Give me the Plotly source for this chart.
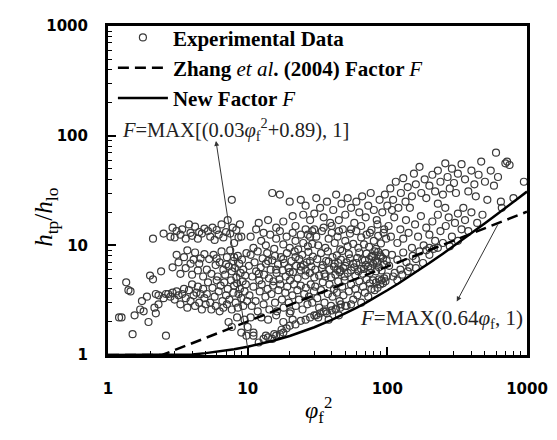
import plotly.graph_objects as go
import math

# ---------------- data ----------------
# experimental points (phi_f^2, h_tp/h_lo), grouped by region
pts_a = [(1.2,2.2),(1.25,2.2),(1.35,4.6),(1.4,3.9),(1.45,3.8),(1.5,1.55),(1.55,2.3),(1.7,2.6),
         (1.75,3.1),(1.8,2.5),(1.9,3.4),(1.95,2.0),(2.0,5.3),(2.1,4.9),(2.1,11.5),(2.15,2.7),
         (2.2,3.6),(2.2,2.4),(2.3,3.5),(2.4,5.8),(2.5,3.3),(2.6,1.5),(2.5,12.8),(2.6,3.6),(2.3,2.9)]
pts_b = [(2.8,12),(2.9,14.5),(3.0,11.8),(3.1,13.5),(3.3,12.5),(3.4,14),(3.6,11.5),(3.8,15.5),
         (3.9,13),(4.0,12.2),(4.2,14.8),(4.4,11.5),(4.5,13.2),(4.7,12.8),(4.9,14.2),
         (2.9,6.3),(3.1,8.2),(3.2,7.0),(3.3,5.5),(3.5,7.8),(3.6,6.2),(3.7,9.0),(3.9,6.8),(4.0,5.4),
         (4.1,7.4),(4.2,8.6),(4.4,5.9),(4.5,6.8),(4.6,7.6),(4.8,5.2),(4.9,8.3),
         (2.7,3.6),(2.8,3.4),(2.9,3.7),(3.0,3.2),(3.1,3.8),(3.2,3.5),(3.3,2.9),(3.4,3.6),(3.5,4.0),
         (3.6,3.3),(3.7,2.7),(3.8,3.9),(3.9,3.1),(4.0,4.4),(4.1,3.5),(4.2,2.8),(4.3,3.7),(4.4,4.2),
         (4.5,3.0),(4.6,3.6),(4.7,2.6),(4.8,4.0),(4.9,3.3),(5.0,2.9)]
pts_c = [(5.2,13.5),(5.4,12),(5.6,14.5),(5.8,11.2),(6.0,13.8),(6.2,12.5),(6.5,15.5),(6.7,11.8),
         (7.0,13.2),(7.2,17),(7.5,12.8),(7.8,14.5),(8.0,10.5),(8.3,13.8),(8.6,11.8),(8.8,15.5),
         (7.7,26),(9.0,12),
         (5.1,6.0),(5.3,7.5),(5.5,5.5),(5.7,8.2),(5.9,6.6),(6.1,5.2),(6.3,7.0),(6.5,8.8),(6.7,6.0),
         (6.9,5.4),(7.1,7.8),(7.3,6.4),(7.5,9.0),(7.7,5.8),(7.9,7.2),(8.1,6.2),(8.3,5.1),(8.5,8.0),
         (8.7,6.8),(8.9,5.6),(9.1,7.4),(9.3,6.0),(9.6,5.3),(9.8,8.5),(6.0,7.6),(7.0,6.7),(8.0,7.8),
         (5.1,3.6),(5.2,4.6),(5.4,3.0),(5.5,2.6),(5.6,4.1),(5.8,3.4),(5.9,2.8),(6.0,4.8),(6.2,3.8),
         (6.3,2.5),(6.4,4.3),(6.6,3.1),(6.7,2.7),(6.8,4.6),(7.0,3.5),(7.1,2.9),(7.2,4.0),(7.4,3.2),
         (7.6,4.8),(7.7,2.6),(7.9,3.7),(8.0,4.3),(8.2,3.0),(8.4,4.5),(8.5,2.7),(8.6,3.6),(8.8,4.0),
         (9.0,3.3),(9.2,4.7),(9.3,2.8),(9.5,3.8),(9.7,4.4),(9.9,3.1),
         (7.3,2.0),(7.7,1.8),(8.4,2.2),(9.0,1.6),(9.5,2.1),(9.8,1.5),(10,1.8),(10.5,2.2),(11,1.5)]
pts_d = [(12,16),(14,17),(15,30),(16,14.5),(17,29),(18,16.5),(20,25),(21,18.5),(22,15),(24,26),
         (25,19),(26,23),(28,17),(29,13.5),(30,19.5),(27,12.5),
         (10.5,12),(11,9.5),(11.5,14),(12.5,11),(13,13),(13.5,10),(14.5,12.5),(15.5,9.3),(16,11.5),
         (17,13.5),(18,10.2),(19,12),(20,9.5),(21,13),(22,11),(23,9.2),(24,12.5),(25,10.5),(26,14),
         (27,9.8),(28,12),(29,10.3),(30,14),
         (10.2,6.5),(10.5,8.2),(10.8,5.2),(11.2,7.0),(11.5,5.8),(11.8,8.8),(12.1,4.8),(12.4,6.3),
         (12.8,7.6),(13.1,5.4),(13.5,6.8),(13.8,8.5),(14.2,5.0),(14.6,6.0),(15.0,7.3),(15.3,4.7),
         (15.7,8.0),(16.1,5.6),(16.5,6.7),(16.9,4.9),(17.3,7.8),(17.8,5.9),(18.2,6.9),(18.7,5.2),
         (19.1,8.5),(19.6,6.2),(20.1,4.8),(20.6,7.2),(21.1,5.7),(21.7,8.8),(22.2,6.5),(22.8,5.0),
         (23.4,7.5),(24.0,5.9),(24.6,8.2),(25.2,6.6),(25.9,5.3),(26.5,7.0),(27.2,8.7),(27.9,5.6),
         (28.6,6.4),(29.3,7.9),(30,5.1),(12,5.5),(14,7.2),(16,6.0),(18,7.5),(20,5.7),(22,7.8),
         (24,6.4),(26,5.9),(28,7.2),
         (10.3,3.5),(10.7,2.8),(11.0,4.2),(11.4,3.1),(11.8,2.5),(12.2,3.8),(12.6,4.4),(13.0,2.9),
         (13.4,3.4),(13.9,4.0),(14.3,2.6),(14.8,3.6),(15.2,4.3),(15.7,3.0),(16.2,2.5),(16.6,3.9),
         (17.1,4.4),(17.6,3.2),(18.1,2.7),(18.6,3.7),(19.2,4.2),(19.7,3.0),(20.3,2.5),(20.9,3.5),
         (21.5,4.4),(22.1,2.8),(22.7,3.9),(23.3,3.2),(24,4.3),(24.7,2.6),(25.4,3.6),(26.1,4.1),
         (26.8,2.9),(27.5,3.4),(28.3,4.4),(29,3.0),(29.8,3.8),
         (12,1.3),(13,1.4),(14,1.45),(15,1.4),(16,1.5),(17,1.55),(18,1.6),(19,1.75),(20,1.85),
         (22,1.9),(24,2.05),(26,2.1),(28,2.2),(30,2.3),(13.5,1.5),(15.5,1.55),(17.5,1.7),(21,2.1),
         (14,2.1),(16,2.3),(18,2.0),(20,2.4),(12.5,2.2),(11,1.6)]
pts_e = [(31,27),(33,22),(35,18),(37,25),(39,16),(41,21),(43,29),(45,17),(47,24),(50,19),(52,27),
         (55,22),(58,16),(60,25),(63,20),(66,28),(70,18),(73,23),(76,30),(80,21),(84,17),(88,26),
         (92,20),(96,29),(100,23),(35,14.5),(40,15),(45,13.5),(55,14),(65,15),(75,13),(85,15.5),
         (95,14),
         (31,12),(32,10),(34,13.5),(36,9.5),(38,11.5),(40,13),(42,10.5),(44,12),(46,9.2),(48,14),
         (50,11),(52,9.8),(54,12.8),(57,10.3),(60,13.5),(62,9.5),(65,11.8),(68,10.2),(71,12.5),
         (74,9.7),(77,13.8),(80,11),(83,9.3),(86,12.2),(90,10.4),(94,13),(98,11.5),
         (30.5,6),(31.5,7.5),(32.5,5.3),(33.5,8.5),(34.5,6.6),(35.5,5.5),(36.5,7.2),(37.5,8.8),
         (38.5,6.0),(39.5,5.1),(40.5,7.8),(41.5,6.4),(42.5,5.4),(43.5,8.1),(44.5,6.9),(45.5,5.7),
         (46.5,7.4),(47.5,8.9),(48.5,6.2),(49.5,5.2),(51,7.0),(53,8.3),(55,5.9),(57,6.8),(59,5.3),
         (61,7.7),(63,8.6),(65,6.1),(67,5.5),(69,7.3),(71,8.4),(73,6.4),(75,5.6),(77,7.9),(79,6.8),
         (81,8.8),(83,5.8),(85,7.1),(87,6.3),(89,8.1),(91,5.9),(93,7.6),(95,6.7),(97,8.5),(99,7.2),
         (34,6.2),(38,7.1),(42,6.8),(46,5.9),(50,6.5),(54,7.6),(58,6.3),(62,5.8),(66,7.4),(70,6.6),
         (74,7.5),(78,8.0),(82,7.3),(86,8.7),(90,7.9),(36,5.2),(44,6.0),(52,5.6),(60,6.9),(68,6.1),
         (76,6.2),(84,6.9),
         (30.5,4.2),(31.5,3.3),(32.5,2.7),(33.5,3.9),(34.5,4.6),(35.5,3.0),(36.5,2.5),(37.5,3.6),
         (38.5,4.4),(39.5,2.8),(40.5,3.4),(41.5,4.0),(42.5,2.6),(43.5,3.7),(44.5,4.7),(45.5,3.1),
         (46.5,2.9),(47.5,4.2),(48.5,3.5),(49.5,4.8),(51,2.8),(53,3.8),(55,4.4),(57,3.2),(59,4.0),
         (61,3.5),(63,4.7),(65,3.0),(67,4.2),(69,3.7),(71,4.9),(73,3.4),(75,4.5),(77,4.0),(79,4.8),
         (81,3.9),(83,4.6),(85,4.1),(87,4.9),(89,4.4),(91,4.8),(93,4.5),(95,5.0),(97,4.7),(99,5.2),
         (31,2.3),(33,2.4),(35,2.5),(37,2.4),(40,2.55),(43,2.65),(46,2.7),(50,2.8),(55,2.9),
         (32,2.2),(38,2.1),(45,2.3)]
pts_f = [(105,33),(110,26),(115,38),(120,22),(125,30),(130,41),(135,25),(140,34),(150,28),(155,45),
         (160,36),(170,52),(175,30),(185,40),(190,27),(200,35),(210,44),(220,31),(230,48),(240,38),
         (250,29),(260,56),(270,42),(280,33),(290,50),(300,37),(320,45),(340,55),(360,40),(380,31),
         (400,48),(420,36),(450,44),(470,58),(500,38),(520,26),(550,48),(600,70),(620,42),(650,25),
         (700,56),(720,58),(750,54),(800,27),(950,38),(660,22),(580,35),(430,28),(310,30),(230,24),
         (145,22),(108,21),
         (102,15),(106,12),(112,18),(118,10.5),(124,14),(130,11.5),(136,17),(142,13),(150,9.5),
         (158,15.5),(166,12),(174,18.5),(182,10),(190,14.5),(200,12.5),(210,16.5),(220,11),(230,19),
         (240,13.5),(250,10.5),(262,15),(275,18),(290,12),(305,16),(320,19.5),(340,14),(360,17),
         (380,13.5),(400,20),(440,16),(480,19),(320,11),(280,9.8),(200,9.5),(350,22),(260,22),
         (103,6.5),(108,8.2),(113,5.6),(118,7.4),(124,6.0),(130,8.6),(137,7.0),(144,6.3),(152,8.0),
         (160,7.5),(170,8.8),(180,6.9),(190,9.0),(200,8.2),(215,9.3),(230,9.5),(118,4.8),(110,5.2),
         (128,5.4),(140,5.8),(160,6.2)]

# model curves F(phi_f^2), values read at these abscissae
x_line = [1, 2, 2.44, 3, 3.67, 4, 5, 6, 7, 8, 10, 12, 15, 20, 25, 30, 40, 50, 60, 70, 80,
          100, 120, 150, 200, 250, 300, 400, 500, 600, 700, 800, 1000]
y_zhang = [1, 1, 1.0, 1.108, 1.226, 1.28, 1.431, 1.568, 1.693, 1.810, 2.024, 2.217, 2.479, 2.862,
           3.2, 3.505, 4.048, 4.525, 4.957, 5.355, 5.724, 6.4, 7.011, 7.838, 9.051, 10.119,
           11.085, 12.8, 14.311, 15.677, 16.933, 18.102, 20.239]
y_new = [1, 1, 1, 1, 1.0, 1.01, 1.04, 1.07, 1.10, 1.13, 1.19, 1.25, 1.34, 1.49, 1.64, 1.79,
         2.09, 2.39, 2.69, 2.99, 3.29, 3.89, 4.49, 5.39, 6.89, 8.39, 9.89, 12.89, 15.89, 18.89,
         21.89, 24.89, 30.89]

tick_vals = [1, 10, 100, 1000]
tick_text = ["1", "10", "100", "1000"]

# ---------------- figure ----------------
all_pts = pts_a + pts_b + pts_c + pts_d + pts_e + pts_f
x_exp = [p[0] for p in all_pts]
y_exp = [p[1] for p in all_pts]

SERIF = "Liberation Serif"

# the page body has an 8 px margin; plot area wanted at page x 108..535, y 17..355
OFF = 8
W, H = 557 - OFF, 440 - OFF
PL, PR, PT, PB = 108, 535, 17, 355

fig = go.Figure()
fig.add_trace(go.Scatter(
    x=x_exp, y=y_exp, mode="markers",
    name="<b>Experimental Data</b>",
    marker=dict(symbol="circle-open", size=7, color="#3a3a3a", line=dict(width=1.2))))
fig.add_trace(go.Scatter(
    x=x_line, y=y_zhang, mode="lines",
    name="<b>Zhang </b><i>et al</i><b>. (2004) Factor </b><i>F</i>",
    line=dict(color="black", width=2.5, dash="11px,6px")))
fig.add_trace(go.Scatter(
    x=x_line, y=y_new, mode="lines",
    name="<b>New Factor </b><i>F</i>",
    line=dict(color="black", width=2.5)))

axis_common = dict(
    type="log", showgrid=False, zeroline=False,
    showline=True, linecolor="black", linewidth=3, mirror=True,
    ticks="inside", ticklen=8, tickwidth=1.5, tickcolor="black",
    tickvals=tick_vals, ticktext=tick_text,
    tickfont=dict(family="DejaVu Sans", size=15, color="black", weight="bold"),
    minor=dict(ticks="inside", ticklen=4, tickwidth=1, tickcolor="black",
               tickvals=[m * 10 ** e for e in range(0, 3) for m in range(2, 10)]),
    range=[0, 3],
)

fig.update_layout(
    width=W, height=H,
    margin=dict(l=PL - OFF, r=W - (PR - OFF), t=PT - OFF, b=H - (PB - OFF)),
    paper_bgcolor="white", plot_bgcolor="white",
    font=dict(family=SERIF, color="black"),
    xaxis=dict(**axis_common, ticklabelstandoff=18),
    yaxis=dict(**axis_common, ticklabelstandoff=14),
    showlegend=True,
    legend=dict(x=(113 - PL) / (PR - PL), y=1 + 9 / (PB - PT), xanchor="left", yanchor="top",
                bgcolor="rgba(0,0,0,0)", borderwidth=0,
                font=dict(family=SERIF, size=21, color="black"),
                tracegroupgap=0, itemwidth=50),
)


def px_to_paper(px, py):
    return (px - PL) / (PR - PL), (PB - py) / (PB - PT)


xt_x, xt_y = px_to_paper(323, 431)
yt_x, yt_y = px_to_paper(27, 214)

annotations = [
    # axis titles
    dict(text="<i>φ</i><sub>f</sub><sup>2</sup>", x=xt_x, y=xt_y, xref="paper", yref="paper",
         showarrow=False, font=dict(family=SERIF, size=24, color="black")),
    dict(text="<i>h</i><sub>tp</sub>/<i>h</i><sub>lo</sub>", x=yt_x, y=yt_y, xref="paper",
         yref="paper", textangle=-90,
         showarrow=False, font=dict(family=SERIF, size=25, color="black")),
    # formula labels
    dict(text="<i>F</i>=MAX[(0.03<i>φ</i><sub>f</sub><sup>2</sup>+0.89), 1]",
         x=math.log10(1.21), y=2.059, xref="x", yref="y", xanchor="left", yanchor="middle",
         showarrow=False, font=dict(family=SERIF, size=20.5, color="#222")),
    dict(text="<i>F</i>=MAX(0.64<i>φ</i><sub>f</sub>, 1)",
         x=1.792, y=0.328, xref="x", yref="y", xanchor="left", yanchor="middle",
         showarrow=False, font=dict(family=SERIF, size=21, color="#222")),
    # arrows
    dict(text="", x=math.log10(5.93), y=1.952, xref="x", yref="y",
         ax=1.0, ay=math.log10(1.15), axref="x", ayref="y",
         showarrow=True, arrowhead=2, arrowsize=1, arrowwidth=1, arrowcolor="#333"),
    dict(text="", x=2.497, y=0.488, xref="x", yref="y",
         ax=2.797, ay=1.204, axref="x", ayref="y",
         showarrow=True, arrowhead=2, arrowsize=1, arrowwidth=1, arrowcolor="#333"),
]
fig.update_layout(annotations=annotations)

fig.write_html("out.html")
